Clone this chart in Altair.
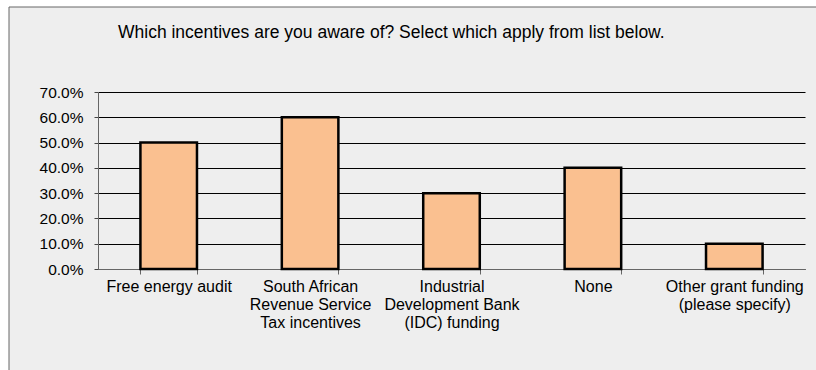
import altair as alt
import pandas as pd

categories = [
    "Free energy audit",
    "South African|Revenue Service|Tax incentives",
    "Industrial|Development Bank|(IDC) funding",
    "None",
    "Other grant funding|(please specify)",
]
values = [0.50, 0.60, 0.30, 0.40, 0.10]
y_ticks = [0.0, 0.1, 0.2, 0.3, 0.4, 0.5, 0.6, 0.7]
title_text = "Which incentives are you aware of? Select which apply from list below."

df = pd.DataFrame({"category": categories, "value": values})
one = pd.DataFrame({"k": [0]})

W, H = 707, 177

# white strips outside the chart frame (top and left)
strip_left = alt.Chart(one).mark_rect(fill="#ffffff").encode(
    x=alt.value(-98), x2=alt.value(-89), y=alt.value(-92), y2=alt.value(300)
)
strip_top = alt.Chart(one).mark_rect(fill="#ffffff").encode(
    x=alt.value(-98), x2=alt.value(760), y=alt.value(-92), y2=alt.value(-85)
)
frame = alt.Chart(one).mark_rect(
    fill="transparent", stroke="#666666", strokeWidth=1
).encode(
    x=alt.value(-89), x2=alt.value(760), y=alt.value(-85), y2=alt.value(400)
)

title = alt.Chart(one).mark_text(
    align="left", baseline="middle", font="Liberation Sans", fontSize=17.5, color="#000000"
).encode(
    x=alt.value(20), y=alt.value(-59), text=alt.value(title_text)
)

bars = alt.Chart(df).mark_bar(
    fill="#FAC090", stroke="#000000", strokeWidth=2.5
).encode(
    x=alt.X(
        "category:N",
        sort=categories,
        scale=alt.Scale(paddingInner=0.6, paddingOuter=0.3),
        axis=alt.Axis(
            title=None,
            labelAngle=0,
            labelExpr="split(datum.label, '|')",
            labelFont="Liberation Sans",
            labelFontSize=16,
            labelLineHeight=18,
            labelColor="#000000",
            labelPadding=4,
            labelBaseline="top",
            domainColor="#666666",
            tickColor="#666666",
            tickSize=5,
            tickBand="extent",
            grid=False,
        ),
    ),
    y=alt.Y(
        "value:Q",
        scale=alt.Scale(domain=[0, 0.7], nice=False),
        axis=alt.Axis(
            title=None,
            values=y_ticks,
            format=".1%",
            labelFont="Liberation Sans Narrow, Liberation Sans",
            labelFontSize=15.5,
            labelColor="#000000",
            labelPadding=11,
            domainColor="#666666",
            tickColor="#444444",
            tickSize=4,
            grid=True,
            gridColor="#000000",
            gridWidth=1,
        ),
    ),
)

chart = alt.layer(strip_left, strip_top, frame, title, bars).properties(
    width=W,
    height=H,
    autosize=alt.AutoSizeParams(type="none"),
    padding={"left": 98, "top": 92, "right": 11, "bottom": 101},
    background="#eeeeee",
).configure_view(stroke=None)

chart.save("out.html", embed_options={"renderer": "svg", "actions": False})
